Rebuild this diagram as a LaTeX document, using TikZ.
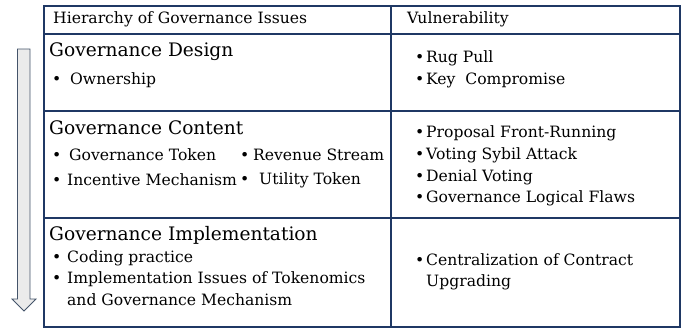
\documentclass[tikz,border=0pt]{standalone}
\usepackage{fontspec}
\setmainfont{DejaVu Serif}
\usepackage{tikz}
\usetikzlibrary{positioning}
\definecolor{navy}{HTML}{1F3864}
\definecolor{arrowgray}{HTML}{EBEBEB}
\definecolor{arrowline}{HTML}{44546A}
\tikzstyle{cell} = [rectangle, draw=navy, line width=1.7pt, anchor=north west, inner sep=0pt]
\tikzstyle{head} = [anchor=west, inner sep=0pt, font=\fontsize{15.6}{18}\selectfont]
\tikzstyle{title} = [anchor=west, inner sep=0pt, font=\fontsize{18.6}{22}\selectfont]
\tikzstyle{item} = [anchor=west, inner sep=0pt, font=\fontsize{15.6}{18}\selectfont]
\newcommand{\bul}[1]{\makebox[#1][l]{\textbullet}}

\begin{document}
\begin{tikzpicture}[x=1pt, y=1pt]
        \useasboundingbox (0,0) rectangle (684,-327);

        % the downward arrow
        \draw [fill=arrowgray, draw=arrowline, line width=0.8pt] (17.5,-49) -- (30,-49) -- (30,-299) -- (36,-299) -- (24,-311) -- (12,-299) -- (17.5,-299) -- cycle;

        % cells
        \node (hdleft) [cell, minimum width=347pt, minimum height=28pt] at (43,-5) {};
        \node (hdright) [cell, minimum width=289pt, minimum height=28pt] at (390,-5) {};
        \node (designleft) [cell, minimum width=347pt, minimum height=77pt] at (43,-33) {};
        \node (designright) [cell, minimum width=289pt, minimum height=77pt] at (390,-33) {};
        \node (contentleft) [cell, minimum width=347pt, minimum height=107pt] at (43,-110) {};
        \node (contentright) [cell, minimum width=289pt, minimum height=107pt] at (390,-110) {};
        \node (implleft) [cell, minimum width=347pt, minimum height=109pt] at (43,-217) {};
        \node (implright) [cell, minimum width=289pt, minimum height=109pt] at (390,-217) {};

        % header
        \node (hierarchy) [head] at (53,-19) {Hierarchy of Governance Issues};
        \node (vulnerability) [head] at (407,-19) {Vulnerability};

        % governance design
        \node (design) [title] at (49,-52) {Governance Design};
        \node (ownership) [item] at (52,-80) {\bul{18pt}Ownership};
        \node (rugpull) [item] at (415,-58) {\bul{11pt}Rug Pull};
        \node (keycomp) [item] at (415,-80) {\bul{11pt}Key~ Compromise};

        % governance content
        \node (content) [title] at (49,-128) {Governance Content};
        \node (govtoken) [item] at (52,-155) {\bul{17pt}Governance Token};
        \node (revenue) [item] at (240,-155) {\bul{13pt}Revenue Stream};
        \node (incentive) [item] at (52,-180) {\bul{15pt}Incentive Mechanism};
        \node (utility) [item] at (240,-180) {\bul{19pt}Utility Token};
        \node (frontrun) [item] at (415,-133) {\bul{11pt}Proposal Front-Running};
        \node (sybil) [item] at (415,-155) {\bul{11pt}Voting Sybil Attack};
        \node (denial) [item] at (415,-177) {\bul{11pt}Denial Voting};
        \node (flaws) [item] at (415,-198) {\bul{11pt}Governance Logical Flaws};

        % governance implementation
        \node (impl) [title] at (49,-235) {Governance Implementation};
        \node (coding) [item] at (52,-258) {\bul{15pt}Coding practice};
        \node (tokenomics) [item] at (52,-279) {\bul{15pt}Implementation Issues of Tokenomics};
        \node (mechanism) [item] at (67,-300) {and Governance Mechanism};
        \node (central) [item] at (415,-260) {\bul{11pt}Centralization of Contract};
        \node (upgrading) [item] at (426,-282) {Upgrading};

      \end{tikzpicture}
\end{document}
